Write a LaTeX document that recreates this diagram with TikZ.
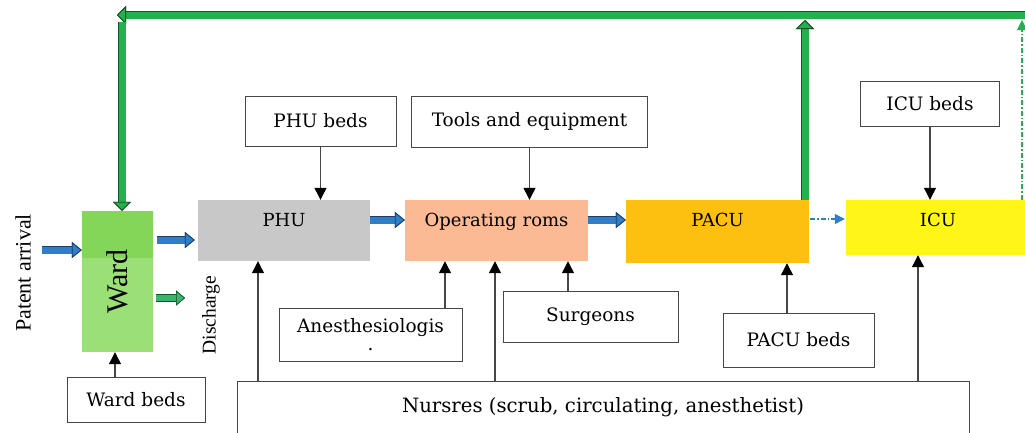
\documentclass[tikz,border=0pt]{standalone}
\usepackage{fontspec}
\setmainfont{DejaVu Serif}
\newfontfamily\timesfont{Liberation Serif}
\usetikzlibrary{arrows.meta, calc}

\definecolor{wardgreen}{RGB}{155,224,118}
\definecolor{wardtop}{RGB}{131,214,88}
\definecolor{phugray}{RGB}{200,200,200}
\definecolor{orsalmon}{RGB}{251,186,148}
\definecolor{pacuorange}{RGB}{254,192,16}
\definecolor{icuyellow}{RGB}{255,245,22}
\definecolor{flowblue}{RGB}{46,126,200}
\definecolor{flowedge}{RGB}{30,60,100}
\definecolor{backgreen}{RGB}{34,177,76}
\definecolor{backedge}{RGB}{20,85,40}
\definecolor{dischgreen}{RGB}{60,180,110}
\definecolor{linegray}{RGB}{70,70,70}

\begin{document}
\begin{tikzpicture}[x=1pt, y=-1pt, >=Stealth,
    unit/.style={fill=#1, inner sep=0pt, text height=13pt, text depth=21pt, font=\fontsize{18}{20}\selectfont},
    wardbox/.style={fill=wardgreen, inner sep=0pt, path picture={\fill[wardtop] (path picture bounding box.north west) rectangle ([yshift=-47pt]path picture bounding box.north east);}},
    res/.style={draw=linegray, line width=1pt, fill=white, inner sep=0pt, align=center, font=\fontsize{18.5}{20}\selectfont},
    feed/.style={draw=linegray, line width=1.2pt, -{Triangle[length=12pt, width=12pt, color=black, fill=black]}},
    blueflow/.style={draw=flowblue, line width=7pt, -{Triangle[length=10pt, width=16pt, fill=flowblue, color=flowedge, line width=0.8pt]}, preaction={draw=flowedge, line width=8.6pt}},
    dischargeflow/.style={draw=dischgreen, line width=6pt, -{Triangle[length=9pt, width=15pt, fill=dischgreen, color=backedge, line width=0.6pt]}, preaction={draw=backedge, line width=7.2pt}},
    dashflow/.style={draw=flowblue, line width=1.2pt, dash pattern=on 5pt off 2pt on 1.5pt off 2pt, -{Triangle[length=10pt, width=10pt, color=flowblue, fill=flowblue]}},
    backflow/.style={draw=backgreen, line width=7pt, -{Triangle[length=9pt, width=18pt, fill=backgreen, color=backedge, line width=0.8pt]}, preaction={draw=backedge, line width=8.8pt}},
    greendash/.style={draw=backgreen, line width=1.2pt, dash pattern=on 5pt off 2pt on 1.5pt off 2pt, -{Triangle[length=10pt, width=10pt, color=backgreen, fill=backgreen]}}]

  \path[use as bounding box, fill=white] (0,0) rectangle (1025,432);

  % Units
  \node[wardbox, minimum width=71pt, minimum height=141pt] (ward) at (117.5,281.5) {\rotatebox{90}{\timesfont\fontsize{30}{30}\selectfont Ward}};
  \node[unit=phugray, minimum width=172pt, minimum height=61pt] (phu) at (284,230.5) {PHU};
  \node[unit=orsalmon, minimum width=183pt, minimum height=61pt] (opr) at (496.5,230.5) {Operating roms};
  \node[unit=pacuorange, minimum width=183pt, minimum height=63pt, text depth=23pt] (pacu) at (717.5,231.5) {PACU};
  \node[unit=icuyellow, minimum width=184pt, minimum height=55pt, text depth=15pt] (icu) at (938,227.5) {ICU};

  % Resources
  \node[res, minimum width=151pt, minimum height=50pt] (phubeds) at (320.5,121) {PHU beds};
  \node[res, minimum width=236pt, minimum height=51pt] (tools) at (529.5,121.5) {Tools and equipment};
  \node[res, minimum width=139pt, minimum height=45pt] (icubeds) at (930,103.5) {ICU beds};
  \node[res, minimum width=183pt, minimum height=53pt] (anest) at (370.5,334.5) {Anesthesiologis\\[-2pt].};
  \node[res, minimum width=175pt, minimum height=51pt] (surg) at (590.5,316.5) {Surgeons};
  \node[res, minimum width=151pt, minimum height=54pt] (pacubeds) at (798.5,340) {PACU beds};
  \node[res, minimum width=138pt, minimum height=45pt] (wardbeds) at (136,399.5) {Ward beds};
  \node[res, anchor=north, minimum width=732pt, minimum height=70pt, text height=13pt, text depth=22pt, font=\fontsize{19.7}{21}\selectfont] (nurses) at (603,381) {Nursres (scrub, circulating, anesthetist)};

  % Labels
  \node[rotate=90, font=\timesfont\fontsize{22}{24}\selectfont] (arrival) at (23,273) {Patent arrival};
  \node[rotate=90, font=\timesfont\fontsize{19.5}{21}\selectfont] (discharge) at (211,315) {Discharge};

  % Free ends
  \coordinate (arrin) at (42,250);
  \coordinate (dis) at (185,298);
  \coordinate (topR) at (1030,15);
  \coordinate (topL) at (117,15);
  \coordinate (wardin) at (122,22);
  \coordinate (pacuout) at (805,20);
  \coordinate (icuout) at (1022,20);

  % Patient flow
  \draw[blueflow] (arrin) -- (arrin -| ward.west);
  \draw[blueflow] ($(ward.east)+(4,-41.5)$) -- ($(phu.west)+(-3,9.5)$);
  \draw[dischargeflow] ($(ward.east)+(3,16.5)$) -- (dis);
  \draw[blueflow] ($(phu.east)+(0,-10.5)$) -- ($(opr.west)+(0,-10.5)$);
  \draw[blueflow] ($(opr.east)+(0,-10.5)$) -- ($(pacu.west)+(0,-11.5)$);
  \draw[dashflow] ($(pacu.east)+(1,-12.5)$) -- ($(icu.west)+(-1,-8.5)$);

  % Back to ward
  \draw[backflow] (topR) -- (topL);
  \draw[backflow] (wardin) -- (wardin |- ward.north);
  \draw[backflow] (pacuout |- pacu.north) -- (pacuout);
  \draw[greendash] (icuout |- icu.north) -- (icuout);

  % Resource edges
  \draw[feed] (phubeds) -- (phubeds |- phu.north);
  \draw[feed] (tools) -- (tools |- opr.north);
  \draw[feed] (icubeds) -- (icubeds |- icu.north);
  \draw[feed] (anest.north -| 445,0) -- (opr.south -| 445,0);
  \draw[feed] (surg.north -| 568,0) -- (opr.south -| 568,0);
  \draw[feed] (pacubeds.north -| 787,0) -- (pacu.south -| 787,0);
  \draw[feed] (wardbeds.north -| 115,0) -- (ward.south -| 115,0);
  \draw[feed] (nurses.north -| 258,0) -- (phu.south -| 258,0);
  \draw[feed] (nurses.north -| 495,0) -- (opr.south -| 495,0);
  \draw[feed] (nurses.north -| 918,0) -- (icu.south -| 918,0);
\end{tikzpicture}
\end{document}
